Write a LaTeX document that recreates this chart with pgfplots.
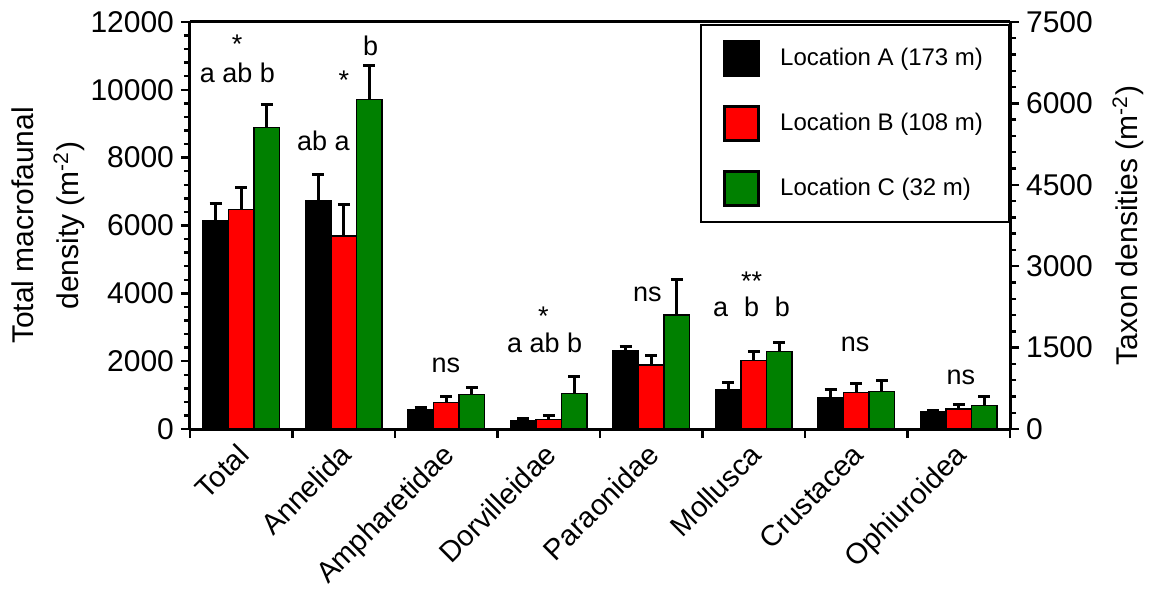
\documentclass[border=0pt]{standalone}
\usepackage{fontspec}
\setmainfont{Liberation Sans}
\usepackage{pgfplots}
\pgfplotsset{compat=1.18}
\definecolor{barred}{RGB}{255,0,0}
\definecolor{bargreen}{RGB}{0,128,0}
\newcommand{\tickfont}{\fontsize{15}{17}\selectfont}
\newcommand{\annfont}{\fontsize{13.5}{16}\selectfont}
\pgfplotstableread{
x y e
0 6140 510
}\totA
\pgfplotstableread{
x y e
0 6477 637
}\totB
\pgfplotstableread{
x y e
0 8883 689
}\totC
\pgfplotstableread{
x y e
1 4213 472
2 350 50
3 148 42
4 1443 74
5 731 122
6 584 148
7 319 19
}\taxA
\pgfplotstableread{
x y e
1 3556 584
2 484 124
3 179 74
4 1179 184
5 1259 166
6 669 173
7 369 74
}\taxB
\pgfplotstableread{
x y e
1 6075 626
2 632 129
3 658 306
4 2101 658
5 1424 173
6 688 197
7 429 166
}\taxC
\pgfplotsset{
  common/.style={
    scale only axis, width=410pt, height=203.5pt,
    xmin=-0.5, xmax=7.5, ymin=0,
    ybar, bar width=0.25,
    tick align=outside,
    major tick length=4.5pt, minor tick length=3pt,
    every tick/.style={black, line width=1.2pt},
    axis line style={line width=1.5pt},
    scaled y ticks=false,
    /pgf/number format/assume math mode=true,
    /pgf/number format/1000 sep={},
    yticklabel style={font=\tickfont},
    ylabel style={font=\fontsize{15}{22.5}\selectfont, align=center},
    minor y tick num=4,
  },
  barA/.style={fill=black, draw=black, line width=0.75pt, bar shift=-0.25,
    error bars/.cd, y dir=plus, y explicit,
    error bar style={line width=1.5pt, black},
    error mark options={rotate=90, mark size=3pt, line width=1.5pt, black}},
  barB/.style={fill=barred, draw=black, line width=0.75pt, bar shift=0,
    error bars/.cd, y dir=plus, y explicit,
    error bar style={line width=1.5pt, black},
    error mark options={rotate=90, mark size=3pt, line width=1.5pt, black}},
  barC/.style={fill=bargreen, draw=black, line width=0.75pt, bar shift=0.25,
    error bars/.cd, y dir=plus, y explicit,
    error bar style={line width=1.5pt, black},
    error mark options={rotate=90, mark size=3pt, line width=1.5pt, black}},
}
\begin{document}
\begin{tikzpicture}
\begin{axis}[common,
  ymax=12000,
  axis x line=box, axis y line*=left,
  xtick pos=bottom, ytick pos=left,
  ytick={0,2000,...,12000},
  xtick={-0.5,0.5,...,7.5}, xticklabels={},
  extra x ticks={0,1,2,3,4,5,6,7},
  extra x tick labels={Total,Annelida,Ampharetidae,Dorvilleidae,Paraonidae,Mollusca,Crustacea,Ophiuroidea},
  extra x tick style={major tick length=0pt,
    tick label style={font=\fontsize{14.5}{17}\selectfont, rotate=45, anchor=north east, inner sep=1pt, xshift=-5.4pt, yshift=-1.6pt}},
  ylabel={Total macrofaunal\\density (m\textsuperscript{-2})},
  ylabel style={yshift=-4pt},
  legend style={at={(1,1)}, anchor=north east, yshift=-1pt, draw=black, line width=1pt,
    font=\fontsize{12}{14}\selectfont, row sep=14pt, inner xsep=11pt, inner ysep=7.5pt,
    /tikz/every even column/.append style={column sep=0pt}},
  legend cell align=left,
  legend image code/.code={\draw[#1, line width=1.5pt] (0pt,-8.5pt) rectangle (17pt,8.5pt);},
]
\coordinate (ll) at (rel axis cs:0,0);
\coordinate (ur) at (rel axis cs:1,1);
\addplot[barA] table[x=x, y=y, y error=e] {\totA};
\addlegendentry{\hspace{8pt}Location A (173 m)}
\addplot[barB] table[x=x, y=y, y error=e] {\totB};
\addlegendentry{\hspace{8pt}Location B (108 m)}
\addplot[barC] table[x=x, y=y, y error=e] {\totC};
\addlegendentry{\hspace{8pt}Location C (32 m)}
\node[font=\annfont, anchor=base] at (axis cs:-0.04,11085) {*};
\node[font=\annfont, anchor=base] at (axis cs:-0.037,10230) {a ab b};
\end{axis}
\begin{axis}[common,
  ymax=7500,
  axis x line=none, axis y line*=right,
  ytick={0,1500,...,7500},
  ylabel={Taxon densities (m\textsuperscript{-2})},
  ylabel style={yshift=-3pt},
]
\addplot[barA] table[x=x, y=y, y error=e] {\taxA};
\addplot[barB] table[x=x, y=y, y error=e] {\taxB};
\addplot[barC] table[x=x, y=y, y error=e] {\taxC};
\node[font=\annfont, anchor=base] at (axis cs:0.802,5141) {ab a};
\node[font=\annfont, anchor=base] at (axis cs:1.002,6254) {*};
\node[font=\annfont, anchor=base] at (axis cs:1.263,6891) {b};
\node[font=\annfont, anchor=base] at (axis cs:1.996,1044) {ns};
\node[font=\annfont, anchor=base] at (axis cs:2.947,1916) {*};
\node[font=\annfont, anchor=base] at (axis cs:2.96,1406) {a ab b};
\node[font=\annfont, anchor=base] at (axis cs:3.963,2346) {ns};
\node[font=\annfont, anchor=base] at (axis cs:4.98,2561) {**};
\node[font=\annfont, anchor=base] at (axis cs:4.678,2082) {a};
\node[font=\annfont, anchor=base] at (axis cs:4.98,2082) {b};
\node[font=\annfont, anchor=base] at (axis cs:5.28,2082) {b};
\node[font=\annfont, anchor=base] at (axis cs:5.988,1425) {ns};
\node[font=\annfont, anchor=base] at (axis cs:7.02,811) {ns};
\end{axis}
\pgfresetboundingbox
\path ([shift={(-95pt,-80pt)}]ll) rectangle ([shift={(75.5pt,11pt)}]ur);
\end{tikzpicture}
\end{document}
